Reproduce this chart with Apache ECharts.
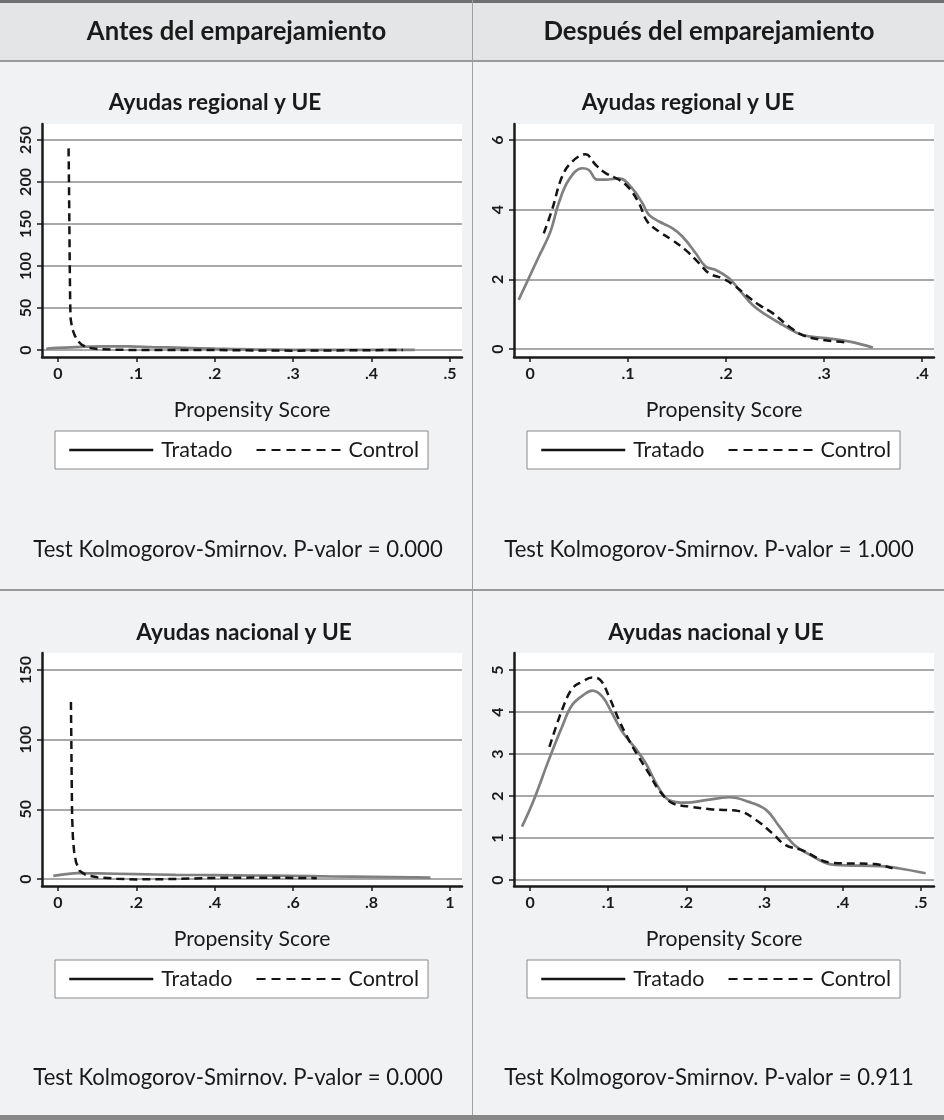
<!DOCTYPE html>
<html><head><meta charset="utf-8">
<script src="https://cdn.jsdelivr.net/npm/echarts@6/dist/echarts.min.js"></script>
<style>html,body{margin:0;padding:0;background:#f1f2f4}#c{width:944px;height:1120px}</style>
</head><body><div id="c"></div>
<script>
const FONT = 'Lato';

// ---------- data ----------
const colHeaders = ['Antes del emparejamiento', 'Después del emparejamiento'];
const panelTitles = ['Ayudas regional y UE', 'Ayudas regional y UE', 'Ayudas nacional y UE', 'Ayudas nacional y UE'];
const seriesNames = ['Tratado', 'Control'];
const xAxisName = 'Propensity Score';
const ksTexts = [
  'Test Kolmogorov-Smirnov. P-valor = 0.000',
  'Test Kolmogorov-Smirnov. P-valor = 1.000',
  'Test Kolmogorov-Smirnov. P-valor = 0.000',
  'Test Kolmogorov-Smirnov. P-valor = 0.911'
];

const xTicksRegAntes = [0, 0.1, 0.2, 0.3, 0.4, 0.5];
const yTicksRegAntes = [0, 50, 100, 150, 200, 250];
const xTicksRegDesp = [0, 0.1, 0.2, 0.3, 0.4];
const yTicksRegDesp = [0, 2, 4, 6];
const xTicksNacAntes = [0, 0.2, 0.4, 0.6, 0.8, 1];
const yTicksNacAntes = [0, 50, 100, 150];
const xTicksNacDesp = [0, 0.1, 0.2, 0.3, 0.4, 0.5];
const yTicksNacDesp = [0, 1, 2, 3, 4, 5];

const regAntesTratado = [[-0.015,1.5],[0,2.5],[0.03,3.8],[0.06,4.4],[0.09,4.2],[0.12,3.5],[0.16,2.6],[0.2,1.6],[0.25,0.7],[0.3,0.2],[0.35,0.1],[0.4,0.1],[0.455,0.1]];
const regAntesControl = [[0.0135,240],[0.014,200],[0.0145,150],[0.015,100],[0.0155,60],[0.016,38],[0.018,26],[0.021,18],[0.025,11],[0.03,6.5],[0.037,3],[0.05,1.2],[0.08,0.2],[0.12,0],[0.2,0],[0.25,-0.5],[0.3,-0.8],[0.35,-0.5],[0.44,0]];
const regDespTratado = [[-0.0116,1.41],[0.0089,2.65],[0.0208,3.37],[0.0293,4.19],[0.0396,4.86],[0.0532,5.19],[0.06,5.14],[0.0685,4.86],[0.077,4.86],[0.0907,4.9],[0.104,4.62],[0.1145,4.19],[0.1213,3.85],[0.1316,3.66],[0.145,3.47],[0.1554,3.23],[0.169,2.75],[0.179,2.37],[0.1895,2.27],[0.203,2.03],[0.2134,1.70],[0.227,1.26],[0.2406,0.98],[0.261,0.64],[0.278,0.40],[0.302,0.31],[0.326,0.21],[0.3497,0.04]];
const regDespControl = [[0.014,3.32],[0.0225,4.0],[0.0327,4.95],[0.043,5.38],[0.0566,5.59],[0.0668,5.29],[0.077,5.05],[0.0907,4.86],[0.101,4.62],[0.111,4.19],[0.1196,3.66],[0.1316,3.37],[0.145,3.13],[0.1588,2.84],[0.1725,2.46],[0.1827,2.17],[0.196,2.03],[0.21,1.79],[0.22,1.55],[0.234,1.26],[0.2474,1.03],[0.2645,0.64],[0.278,0.40],[0.2986,0.26],[0.3224,0.19]];
const nacAntesTratado = [[-0.012,2.2],[0.02,3.5],[0.05,4.2],[0.1,4],[0.2,3.5],[0.3,3],[0.4,2.8],[0.5,2.5],[0.6,2.2],[0.7,1.8],[0.8,1.5],[0.9,1.2],[0.95,1]];
const nacAntesControl = [[0.033,127],[0.034,100],[0.035,70],[0.036,45],[0.038,30],[0.041,20],[0.046,12],[0.055,6],[0.07,3],[0.1,1.2],[0.15,0.2],[0.2,-0.3],[0.3,0],[0.4,0.8],[0.5,1],[0.6,0.8],[0.66,0.6]];
const nacDespTratado = [[-0.0103,1.27],[0.0047,1.90],[0.024,2.86],[0.041,3.65],[0.054,4.17],[0.0709,4.44],[0.0795,4.51],[0.0923,4.37],[0.105,3.97],[0.118,3.53],[0.135,3.13],[0.148,2.78],[0.165,2.18],[0.178,1.90],[0.199,1.84],[0.2247,1.90],[0.2547,1.97],[0.28,1.86],[0.302,1.67],[0.319,1.27],[0.336,0.87],[0.355,0.63],[0.39,0.36],[0.448,0.33],[0.471,0.28],[0.506,0.16]];
const nacDespControl = [[0.0248,3.17],[0.041,4.05],[0.054,4.56],[0.0667,4.72],[0.0795,4.82],[0.09,4.76],[0.101,4.37],[0.1137,3.81],[0.1265,3.33],[0.139,2.93],[0.152,2.54],[0.165,2.14],[0.182,1.83],[0.2035,1.75],[0.233,1.68],[0.2675,1.64],[0.289,1.43],[0.31,1.11],[0.327,0.83],[0.3478,0.71],[0.386,0.41],[0.44,0.38],[0.4636,0.28]];

// ---------- helpers ----------
const ctx = document.createElement('canvas').getContext('2d');
function fit(text, weight, target) {
  ctx.font = weight + ' 100px ' + FONT;
  return Math.round(100 * target / ctx.measureText(text).width * 10) / 10;
}
const fsHeader = fit(colHeaders[0], 'bold', 299);
const fsTitle = fit(panelTitles[0], 'bold', 212);
const fsName = fit(xAxisName, 'normal', 157);
const fsLegend = fit('Tratado', 'normal', 71);
const fsKs = fit(ksTexts[0], 'normal', 409);
const fsTick = 16;
const fmt = v => (v === 0 ? '0' : (v === 1 ? '1' : String(v).replace(/^0/, '')));

const TXT = '#1a1a1a';
const panels = [
  { l: 42, t: 124, xr: [-0.0204, 0.5153], yr: [-8.33, 269], xt: xTicksRegAntes, yt: yTicksRegAntes, d: [regAntesTratado, regAntesControl], sm: [0.4, false] },
  { l: 514, t: 124, xr: [-0.01636, 0.412], yr: [-0.23, 6.46], xt: xTicksRegDesp, yt: yTicksRegDesp, d: [regDespTratado, regDespControl], sm: [0.4, 0.4] },
  { l: 42, t: 653, xr: [-0.0408, 1.0306], yr: [-5.02, 162.2], xt: xTicksNacAntes, yt: yTicksNacAntes, d: [nacAntesTratado, nacAntesControl], sm: [0.4, false] },
  { l: 514, t: 653, xr: [-0.0205, 0.5167], yr: [-0.143, 5.405], xt: xTicksNacDesp, yt: yTicksNacDesp, d: [nacDespTratado, nacDespControl], sm: [0.4, 0.4] }
];
const GW = 420, GH = 233;

const grid = [], xAxis = [], yAxis = [], series = [], legend = [];
panels.forEach((p, i) => {
  grid.push({ left: p.l, top: p.t, width: GW, height: GH, show: true, backgroundColor: '#ffffff', borderWidth: 0, containLabel: false });
  xAxis.push({
    type: 'value', gridIndex: i, min: p.xr[0], max: p.xr[1],
    name: xAxisName, nameLocation: 'middle', nameGap: 43,
    nameTextStyle: { fontFamily: FONT, fontSize: fsName, color: TXT },
    axisLine: { show: true, onZero: false, lineStyle: { color: TXT, width: 2.5 } },
    axisTick: { show: true, customValues: p.xt, length: 5, lineStyle: { color: TXT, width: 1.5 } },
    axisLabel: { customValues: p.xt, formatter: fmt, fontFamily: FONT, fontWeight: 'bold', fontSize: fsTick, color: TXT, margin: 9 },
    splitLine: { show: false }
  });
  yAxis.push({
    type: 'value', gridIndex: i, min: p.yr[0], max: p.yr[1],
    axisLine: { show: true, onZero: false, lineStyle: { color: TXT, width: 2.5 } },
    axisTick: { show: true, customValues: p.yt, length: 5, lineStyle: { color: TXT, width: 1.5 } },
    axisLabel: { customValues: p.yt, formatter: fmt, rotate: 90, fontFamily: FONT, fontWeight: 'bold', fontSize: fsTick, color: TXT, margin: 8 },
    splitLine: { show: true, customValues: p.yt, lineStyle: { color: '#8c8c8c', width: 1.5 } }
  });
  series.push({
    name: seriesNames[0], type: 'line', xAxisIndex: i, yAxisIndex: i, data: p.d[0],
    symbol: 'none', showSymbol: false, smooth: p.sm[0], z: 3,
    lineStyle: { color: '#808080', width: 2.7 }, itemStyle: { color: '#808080' }
  });
  series.push({
    name: seriesNames[1], type: 'line', xAxisIndex: i, yAxisIndex: i, data: p.d[1],
    symbol: 'none', showSymbol: false, smooth: p.sm[1], z: 4,
    lineStyle: { color: '#141414', width: 2.5, type: [8, 5] }, itemStyle: { color: '#141414' }
  });
  legend.push({
    left: p.l + 13, top: p.t + 307, orient: 'horizontal',
    padding: [8, 9, 8, 13], itemGap: 23, itemWidth: 84, itemHeight: 14,
    borderColor: '#8a8a8a', borderWidth: 1, backgroundColor: '#ffffff',
    textStyle: { fontFamily: FONT, fontSize: fsLegend, color: TXT, padding: [0, 0, 0, 3], lineHeight: 21 },
    selectedMode: false,
    itemStyle: { opacity: 0 },
    data: [
      { name: seriesNames[0], itemStyle: { opacity: 0, color: 'transparent', borderWidth: 0 }, lineStyle: { color: '#141414', width: 2.5, type: 'solid' } },
      { name: seriesNames[1], itemStyle: { opacity: 0, color: 'transparent', borderWidth: 0 }, lineStyle: { color: '#141414', width: 2.2, type: [9, 6] } }
    ]
  });
});

const elements = [];
elements.push({ type: 'rect', z: -20, shape: { x: 0, y: 0, width: 944, height: 61 }, style: { fill: '#e4e5e7' } });
elements.push({ type: 'rect', z: -20, shape: { x: 0, y: 61, width: 944, height: 1056 }, style: { fill: '#f1f2f4' } });
elements.push({ type: 'rect', z: -10, shape: { x: 0, y: 0, width: 944, height: 3 }, style: { fill: '#707070' } });
elements.push({ type: 'rect', z: -10, shape: { x: 0, y: 60, width: 944, height: 2 }, style: { fill: '#9a9a9a' } });
elements.push({ type: 'rect', z: -10, shape: { x: 0, y: 589, width: 944, height: 2 }, style: { fill: '#9a9a9a' } });
elements.push({ type: 'rect', z: -10, shape: { x: 0, y: 1115, width: 944, height: 5 }, style: { fill: '#888888' } });
elements.push({ type: 'rect', z: -10, shape: { x: 472, y: 0, width: 1, height: 1115 }, style: { fill: '#a0a0a0' } });

function txt(text, x, y, size, weight) {
  return { type: 'text', x: x, y: y, z: 10, style: {
    text: text, fill: TXT, fontFamily: FONT, fontSize: size, fontWeight: weight,
    font: weight + ' ' + size + 'px ' + FONT,
    align: 'center', verticalAlign: 'middle', textAlign: 'center', textVerticalAlign: 'middle' } };
}
elements.push(txt(colHeaders[0], 236.5, 32, fsHeader, 'bold'));
elements.push(txt(colHeaders[1], 709, 32, fsHeader, 'bold'));
const titlePos = [[215, 103], [688, 103], [244, 633], [716, 633]];
const ksPos = [[238, 550], [709, 550], [238, 1078], [709, 1078]];
panelTitles.forEach((t, i) => elements.push(txt(t, titlePos[i][0], titlePos[i][1], fsTitle, 'bold')));
ksTexts.forEach((t, i) => elements.push(txt(t, ksPos[i][0], ksPos[i][1], fsKs, 'normal')));

const chart = echarts.init(document.getElementById('c'), null, { renderer: 'canvas' });
chart.setOption({
  animation: false,
  backgroundColor: 'transparent',
  grid, xAxis, yAxis, series, legend,
  graphic: { elements }
});
</script>
</body></html>
